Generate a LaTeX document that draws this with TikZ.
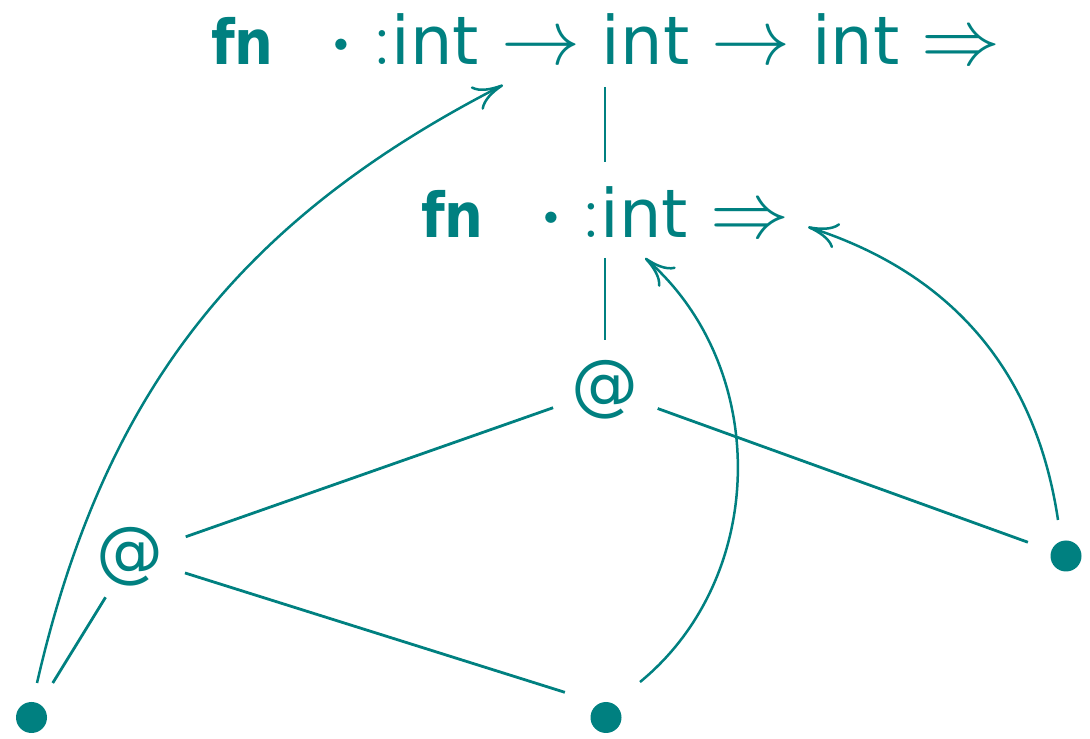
\RequirePackage{fix-cm}
\documentclass[tikz,border=0pt]{standalone}
\usepackage[no-math]{fontspec}
\usepackage{graphicx}
\usetikzlibrary{arrows.meta,bending}
\newfontfamily\dvs{DejaVu Sans}
\newcommand\idt[1]{\hbox{\fontsize{67}{80}\selectfont\dvs #1}}
\newcommand\narrowbf[1]{\scalebox{0.88}[1]{#1}}
\definecolor{tl}{RGB}{0,128,128}
\tikzset{
  lbl/.style={inner sep=0pt, outer sep=0pt, anchor=base west, text=tl, font=\fontsize{79}{90}\selectfont},
  dotlbl/.style={inner sep=0pt, outer sep=0pt, anchor=base west, text=tl, font=\fontsize{107}{120}\selectfont},
  fnlbl/.style={inner sep=0pt, outer sep=0pt, anchor=base west, text=tl, font=\fontsize{62}{70}\selectfont\dvs\bfseries},
  atlbl/.style={inner sep=0pt, outer sep=0pt, text=tl, font=\fontsize{67}{80}\selectfont\dvs},
  leaf/.style={circle, fill=tl, minimum size=31pt, inner sep=0pt},
  tedge/.style={draw=tl, line width=2.8pt},
  ptr/.style={draw=tl, line width=2.5pt, -{Computer Modern Rightarrow[length=30pt, width=26pt]}},
}
\begin{document}
\begin{tikzpicture}[x=1pt,y=1pt]
\useasboundingbox (0,0) rectangle (1090,739);
% row 1
\node[fnlbl] (f1) at (211,674) {\narrowbf{fn}};
\node[dotlbl] (c1) at (326,667) {$\cdot$};
\node[lbl] (r1) at (372,674) {${:}\idt{int}\rightarrow\idt{int}\rightarrow\idt{int}\Rightarrow$};
% row 2
\node[fnlbl] (f2) at (421,501) {\narrowbf{fn}};
\node[dotlbl] (c2) at (536,494) {$\cdot$};
\node[lbl] (r2) at (581,501) {${:}\idt{int}\Rightarrow$};
% tree
\coordinate (t1) at (605,674);
\coordinate (t2) at (605,501);
\node[atlbl] (a1) at (605,349.5) {@};
\node[atlbl] (a2) at (130,182.5) {@};
\node[leaf] (d1) at (31.5,21.5) {};
\node[leaf] (d2) at (606,21.5) {};
\node[leaf] (d3) at (1066,183) {};
\coordinate (p1) at (503,654);
\coordinate (p2) at (645,481);
\coordinate (p3) at (808,512);
% tree edges
\draw[tedge] ([yshift=-22pt]t1) -- ([yshift=76pt]t2);
\draw[tedge] ([yshift=-20pt]t2) -- ([yshift=49.5pt]a1.center);
\draw[tedge, shorten <=55pt, shorten >=58pt] (a1.center) -- ([xshift=1pt,yshift=0.5pt]a2.center);
\draw[tedge, shorten <=56pt, shorten >=40.5pt] (a1.center) -- (d3.center);
\draw[tedge, shorten <=48.5pt, shorten >=40.5pt] ([xshift=1pt,yshift=0.5pt]a2.center) -- (d1.center);
\draw[tedge, shorten <=56.6pt, shorten >=84pt] ([xshift=1pt,yshift=0.5pt]a2.center) -- ([xshift=39pt]d2.center);
% pointers
\draw[ptr] ([xshift=5.5pt,yshift=34.5pt]d1.center) to[bend left=25] (p1);
\draw[ptr] ([xshift=34pt,yshift=35.5pt]d2.center) to[bend right=50] (p2);
\draw[ptr] ([xshift=-8pt,yshift=36pt]d3.center) to[bend right=32] (p3);
\end{tikzpicture}
\end{document}
